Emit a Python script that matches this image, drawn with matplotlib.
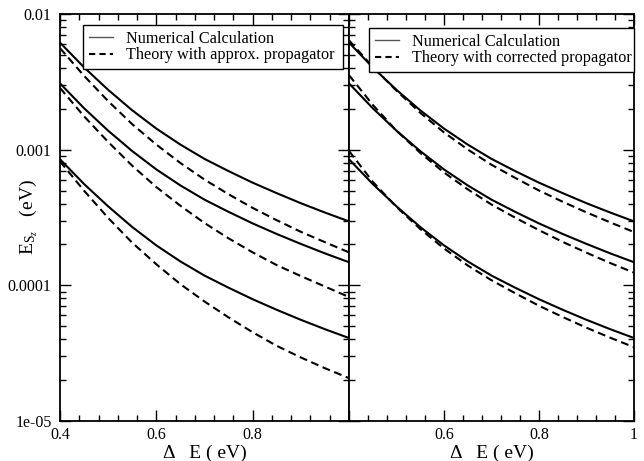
import matplotlib
matplotlib.use("Agg")
import matplotlib.pyplot as plt
from matplotlib.lines import Line2D
from matplotlib.ticker import FixedLocator, MultipleLocator, LogLocator, NullFormatter

plt.rcParams['font.family'] = ['Liberation Serif', 'DejaVu Serif']
plt.rcParams['mathtext.fontset'] = 'custom'
plt.rcParams['mathtext.rm'] = 'Liberation Serif'
plt.rcParams['mathtext.it'] = 'Liberation Serif:italic'

# energy splitting Delta E (eV)
delta_e = [0.40, 0.45, 0.50, 0.55, 0.60, 0.65, 0.70, 0.75, 0.80, 0.85, 0.90, 0.95, 1.00]

# numerical calculation (same in both panels)
num_a = [0.00615, 0.00404, 0.00276, 0.00195, 0.00143, 0.00109, 0.000855, 0.000695,
         0.000571, 0.000478, 0.000403, 0.000344, 0.000296]
num_b = [0.00308, 0.00202, 0.00138, 0.000976, 0.000715, 0.000545, 0.000428, 0.000348,
         0.000286, 0.000239, 0.000202, 0.000172, 0.000148]
num_c = [0.00085, 0.000558, 0.000382, 0.000269, 0.000197, 0.000150, 0.000118, 9.6e-5,
         7.9e-5, 6.6e-5, 5.57e-5, 4.75e-5, 4.09e-5]

# theory with approximate propagator (left)
approx_a = [0.0056, 0.0035, 0.00228, 0.00154, 0.00109, 0.000797, 0.000602, 0.000469,
            0.000372, 0.000302, 0.000248, 0.000208, 0.000175]
approx_b = [0.00285, 0.00176, 0.00114, 0.000761, 0.00053, 0.000386, 0.000288, 0.000222,
            0.000175, 0.000141, 0.000117, 9.8e-5, 8.2e-5]
approx_c = [0.00082, 0.000498, 0.000314, 0.000206, 0.000143, 0.000102, 7.6e-5, 5.8e-5,
            4.51e-5, 3.58e-5, 2.94e-5, 2.45e-5, 2.07e-5]

# theory with corrected propagator (right)
corr_a = [0.0064, 0.00408, 0.00272, 0.00187, 0.00134, 0.001003, 0.000774, 0.000619,
          0.0005, 0.000413, 0.000345, 0.000291, 0.000247]
corr_b = [0.00354, 0.00214, 0.00138, 0.000947, 0.000679, 0.00051, 0.000394, 0.000315,
          0.000255, 0.000209, 0.000174, 0.000146, 0.000124]
corr_c = [0.000978, 0.00058, 0.000378, 0.00026, 0.000187, 0.00014, 0.000109, 8.74e-5,
          7.07e-5, 5.84e-5, 4.87e-5, 4.11e-5, 3.5e-5]

x_ticks = [0.4, 0.6, 0.8, 1.0]
y_ticks = [1e-5, 1e-4, 1e-3, 1e-2]
y_labels = ['1e-05', '0.0001', '0.001', '0.01']

dash = (0, (3.8, 2.2))

fig = plt.figure(figsize=(6.44, 4.61), dpi=100)
bottom = 1 - 421 / 461
height = 407 / 461
ax1 = fig.add_axes([60 / 644, bottom, 289 / 644, height])
ax2 = fig.add_axes([349 / 644, bottom, 285 / 644, height])

panels = [
    (ax1, [approx_a, approx_b, approx_c], ['0.4', '0.6', '0.8', ''],
     'Theory with approx. propagator', (0.08, 0.862, 0.899, 0.111)),
    (ax2, [corr_a, corr_b, corr_c], ['', '0.6', '0.8', '1'],
     'Theory with corrected propagator', (0.07, 0.857, 0.93, 0.109)),
]

for ax, theory, xlabels, theory_name, box in panels:
    for ys in [num_a, num_b, num_c]:
        ax.plot(delta_e, ys, color='black', lw=1.5, solid_capstyle='butt')
    for ys in theory:
        ax.plot(delta_e, ys, color='black', lw=1.5, linestyle=dash)

    ax.set_yscale('log')
    ax.set_xlim(0.4, 1.0)
    ax.set_ylim(1e-5, 1e-2)

    ax.xaxis.set_major_locator(FixedLocator(x_ticks))
    ax.xaxis.set_minor_locator(MultipleLocator(0.04))
    ax.set_xticklabels(xlabels)
    ax.yaxis.set_major_locator(FixedLocator(y_ticks))
    ax.yaxis.set_minor_locator(LogLocator(base=10, subs=range(2, 10)))
    ax.yaxis.set_minor_formatter(NullFormatter())

    ax.tick_params(which='both', direction='in', top=True, right=True,
                   width=1, labelsize=11.5)
    ax.tick_params(axis='y', pad=6)
    ax.tick_params(axis='x', pad=4)
    ax.tick_params(which='major', length=8)
    ax.tick_params(which='minor', length=4.5)
    for sp in ax.spines.values():
        sp.set_linewidth(1.3)

    ax.set_xlabel('Δ   E ( eV)', fontsize=14)
    ax.xaxis.set_label_coords(0.5, -0.058)

    handles = [Line2D([], [], color='#555555', lw=1),
               Line2D([], [], color='black', lw=1.5, linestyle=(0, (3, 2)))]
    leg = ax.legend(handles, ['Numerical Calculation', theory_name],
                    loc='upper left', bbox_to_anchor=box, mode='expand',
                    fontsize=11.7, frameon=True, fancybox=False, framealpha=1,
                    edgecolor='black', borderpad=0.35, labelspacing=0.05,
                    handlelength=1.5, handletextpad=0.8, borderaxespad=0)
    leg.get_frame().set_linewidth(1)

ax1.set_yticklabels(y_labels)
ax2.set_yticklabels([])
ax1.set_ylabel(r'$\mathrm{E}_{\mathrm{S}_{z}}$   (eV)', fontsize=14)
ax1.yaxis.set_label_coords(-0.07, 0.5)

fig.savefig('out.png', dpi=100)
